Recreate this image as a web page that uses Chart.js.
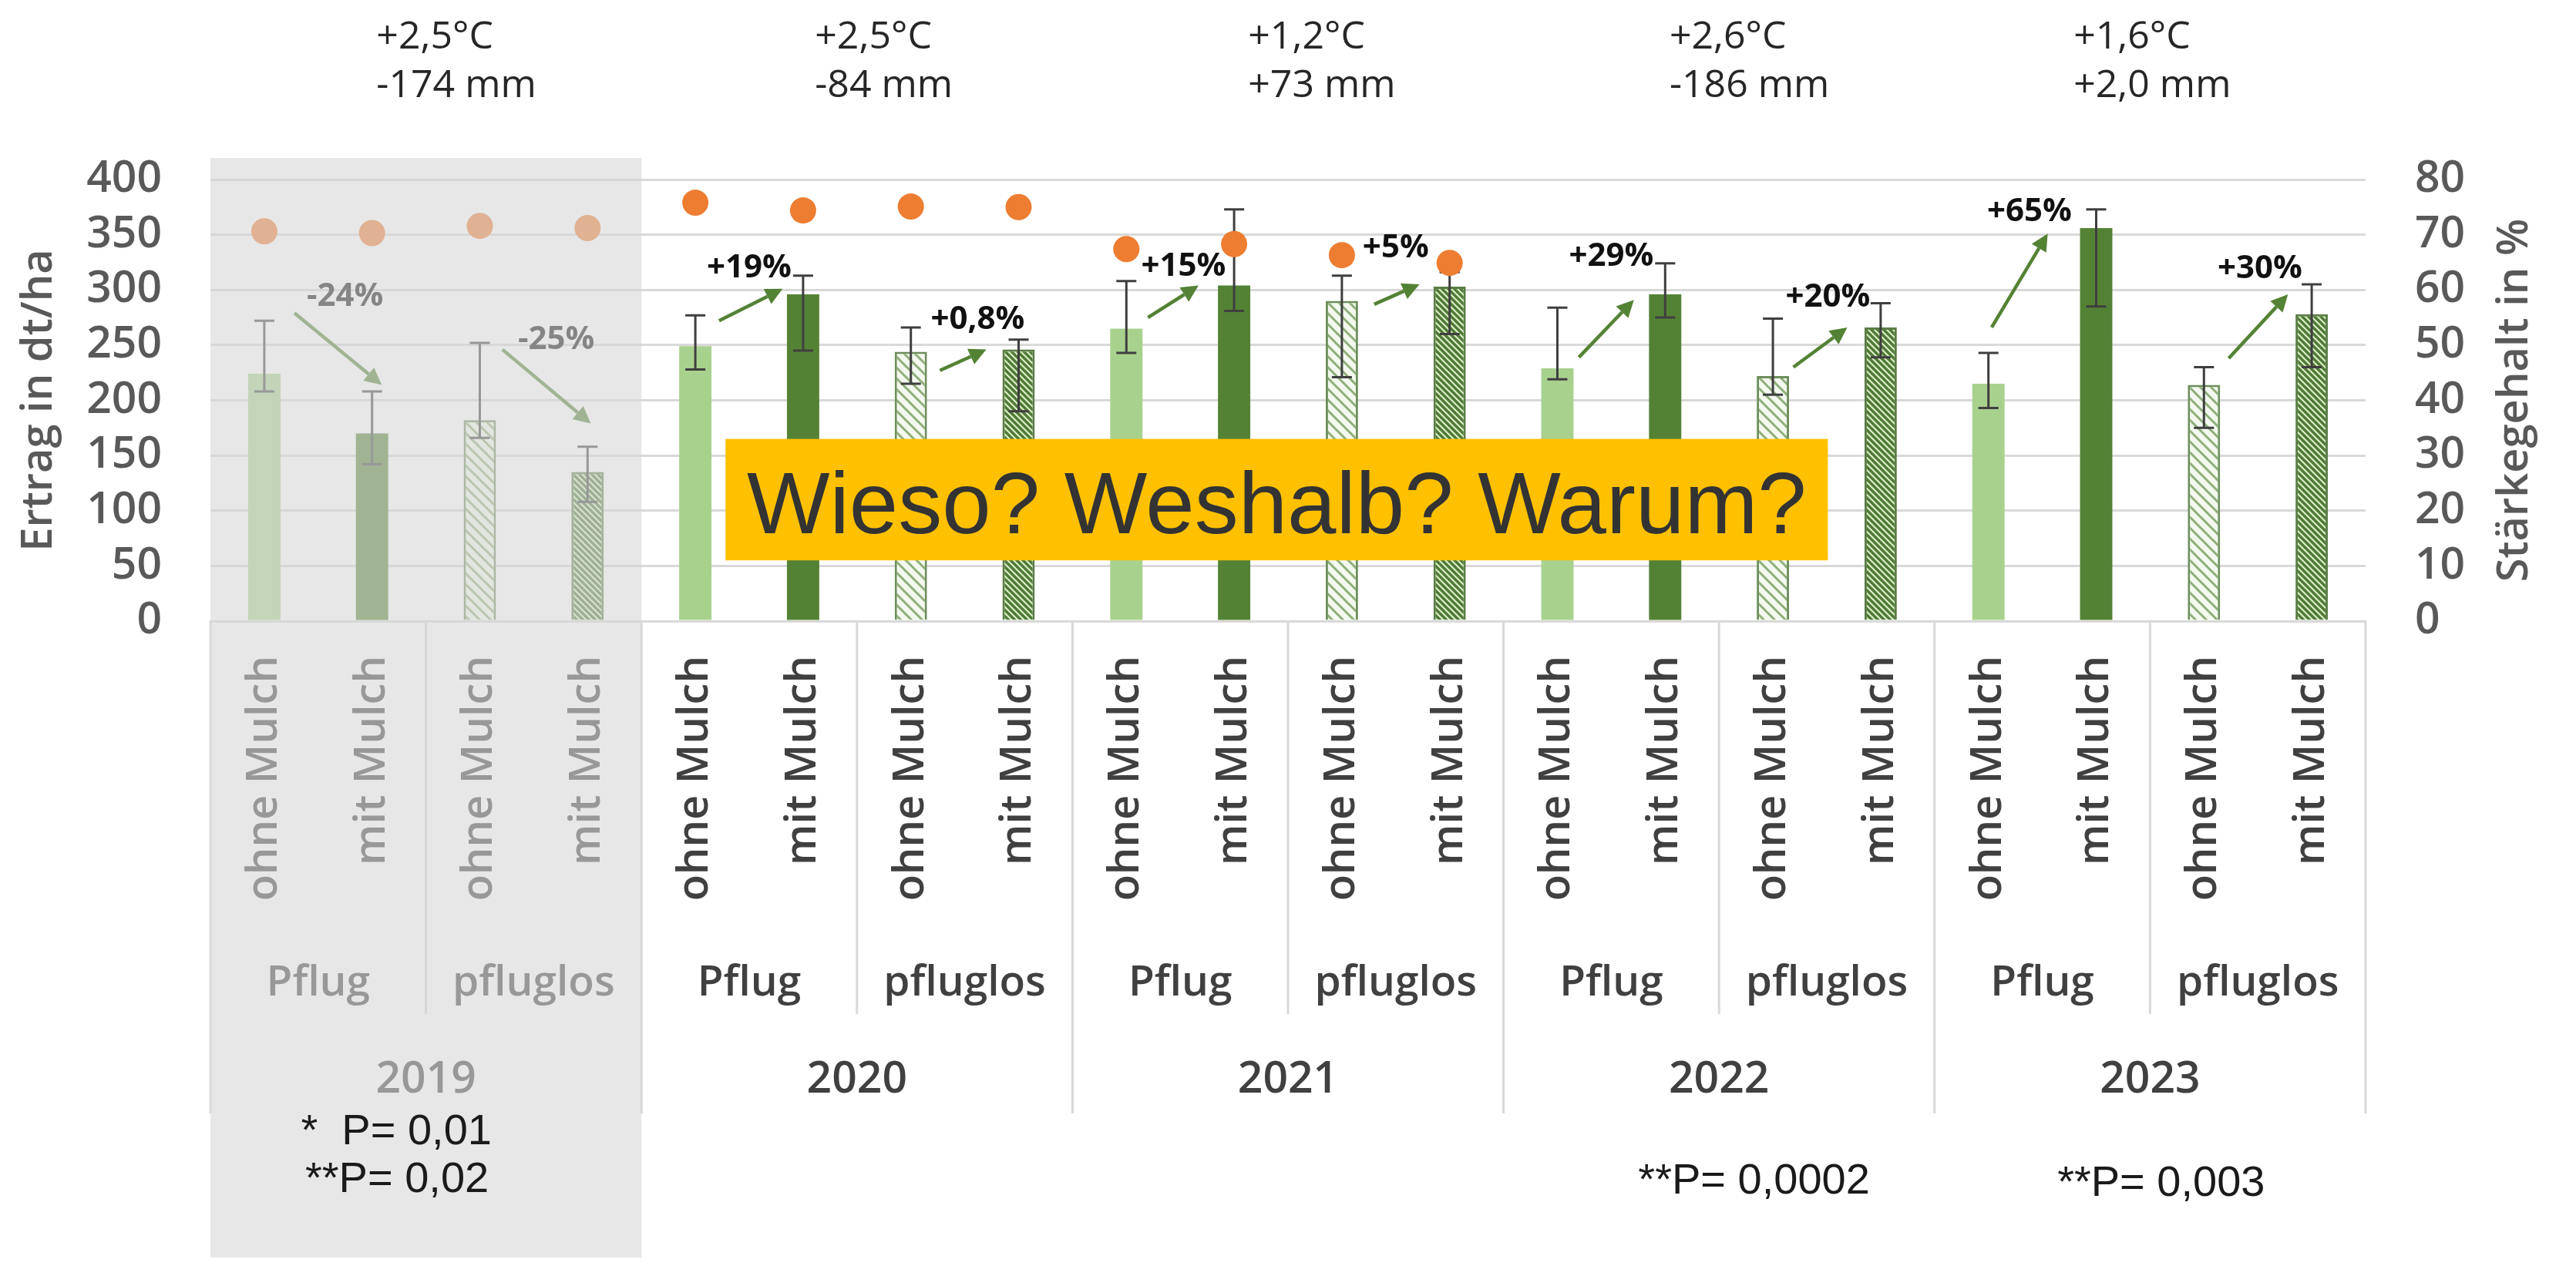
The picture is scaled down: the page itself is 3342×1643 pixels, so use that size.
<!DOCTYPE html>
<html>
<head>
<meta charset="utf-8">
<script src="https://cdn.jsdelivr.net/npm/chart.js@4.4.1/dist/chart.umd.min.js"></script>
<style>
  body { margin: 0; background: #fff; }
  canvas { display: block; }
</style>
</head>
<body>
<canvas id="yieldChart" width="3342" height="1643" style="width:3342px;height:1643px"></canvas>
<script>
// Kategorien (20 Balken: 5 Jahre x Pflug/pfluglos x ohne/mit Mulch)
const categories = [
    'ohne Mulch', 'mit Mulch', 'ohne Mulch', 'mit Mulch',
    'ohne Mulch', 'mit Mulch', 'ohne Mulch', 'mit Mulch',
    'ohne Mulch', 'mit Mulch', 'ohne Mulch', 'mit Mulch',
    'ohne Mulch', 'mit Mulch', 'ohne Mulch', 'mit Mulch',
    'ohne Mulch', 'mit Mulch', 'ohne Mulch', 'mit Mulch'
];
const tillage = ['Pflug', 'pfluglos'];
const years = ['2019', '2020', '2021', '2022', '2023'];

// Ertrag in dt/ha und Fehlerbalken
const yieldValues = [224, 170, 182, 135, 249, 296, 244, 246, 265, 304, 290, 303, 229, 296, 222, 266, 215, 356, 214, 278];
const errHigh     = [272, 208, 252, 158, 277, 313, 266, 255, 308, 373, 313, 316, 284, 324, 274, 288, 243, 373, 230, 305];
const errLow      = [208, 142, 166, 108, 228, 245, 215, 190, 243, 281, 221, 260, 219, 275, 205, 239, 193, 285, 175, 230];

// Stärkegehalt in %
const starchValues = [70.6, 70.3, 71.6, 71.2, 75.8, 74.4, 75.1, 75.0, 67.4, 68.3, 66.3, 64.9,
    null, null, null, null, null, null, null, null];

// Veränderung mit Mulch (Pfeile), Anker in [Kategorie-Index, dt/ha]
const changeLabels = ['-24%', '-25%', '+19%', '+0,8%', '+15%', '+5%', '+29%', '+20%', '+65%', '+30%'];
const changeLabelAt = [[0.75, 294], [2.71, 255], [4.5, 320], [6.62, 273], [8.53, 321], [10.5, 338], [12.5, 330], [14.51, 293], [16.38, 371], [18.52, 319]];
const arrowFrom = [[0.28, 279], [2.21, 246], [4.22, 272], [6.27, 227], [8.20, 275], [10.30, 287], [12.20, 239], [14.19, 230], [16.03, 266], [18.23, 238]];
const arrowTo   = [[1.09, 214], [3.03, 179], [4.81, 301], [6.70, 246], [8.67, 304], [10.72, 305], [12.71, 291], [14.69, 266], [16.55, 351], [18.78, 296]];

// Witterung je Jahr
const tempChange = ['+2,5°C', '+2,5°C', '+1,2°C', '+2,6°C', '+1,6°C'];
const rainChange = ['-174 mm', '-84 mm', '+73 mm', '-186 mm', '+2,0 mm'];
const climateAt = [1.04, 5.11, 9.13, 13.04, 16.79];

// Signifikanzen
const pNotes = ['*  P= 0,01', '**P= 0,02', '**P= 0,0002', '**P= 0,003'];
const pNotesAt = [0.34, 0.38, 12.75, 16.64];
const pNotesY = [1470, 1532, 1534, 1537];

const calloutText = 'Wieso? Weshalb? Warum?';

const canvas = document.getElementById('yieldChart');
const ctx = canvas.getContext('2d');

function makeHatch(bg, fg, gap, lw) {
    const c = document.createElement('canvas');
    c.width = gap;
    c.height = gap;
    const g = c.getContext('2d');
    g.fillStyle = bg;
    g.fillRect(0, 0, gap, gap);
    g.strokeStyle = fg;
    g.lineWidth = lw;
    g.beginPath();
    g.moveTo(-gap / 2, -gap / 2); g.lineTo(gap * 1.5, gap * 1.5);
    g.moveTo(gap / 2, -gap / 2); g.lineTo(gap * 1.5, gap / 2);
    g.moveTo(-gap / 2, gap / 2); g.lineTo(gap / 2, gap * 1.5);
    g.stroke();
    return ctx.createPattern(c, 'repeat');
}

const hatchLight = makeHatch('#f3f9ee', '#8fae7a', 14, 3);
const hatchDense = makeHatch('#dcedc8', '#4f7a36', 8, 3.5);

const barFills = categories.map((_, i) => [ '#a9d18e', '#548235', hatchLight, hatchDense ][i % 4]);
const barBorders = categories.map((_, i) => (i % 4 === 2 ? '#6e8e5c' : '#5a7d45'));
const barBorderWidths = categories.map((_, i) => (i % 4 >= 2 ? 3 : 0));

function drawArrow(c, x1, y1, x2, y2, color) {
    const ang = Math.atan2(y2 - y1, x2 - x1);
    const head = 22, wing = 11;
    const bx = x2 - head * Math.cos(ang), by = y2 - head * Math.sin(ang);
    c.strokeStyle = color;
    c.fillStyle = color;
    c.lineWidth = 4.5;
    c.beginPath();
    c.moveTo(x1, y1);
    c.lineTo(bx, by);
    c.stroke();
    c.beginPath();
    c.moveTo(x2, y2);
    c.lineTo(bx + wing * Math.sin(ang), by - wing * Math.cos(ang));
    c.lineTo(bx - wing * Math.sin(ang), by + wing * Math.cos(ang));
    c.closePath();
    c.fill();
}

const decor = {
    id: 'decor',
    afterDatasetDraw(chart, args) {
        if (args.index !== 1) return;
        const c = chart.ctx, xs = chart.scales.x, ys = chart.scales.y;
        c.save();
        c.strokeStyle = '#3f3f3f';
        c.lineWidth = 3;
        errHigh.forEach((hi, i) => {
            const x = xs.getPixelForValue(i);
            const yh = ys.getPixelForValue(hi), yl = ys.getPixelForValue(errLow[i]);
            c.beginPath();
            c.moveTo(x, yh); c.lineTo(x, yl);
            c.moveTo(x - 13, yh); c.lineTo(x + 13, yh);
            c.moveTo(x - 13, yl); c.lineTo(x + 13, yl);
            c.stroke();
        });
        c.restore();
    },
    afterDraw(chart) {
        const c = chart.ctx, xs = chart.scales.x, ys = chart.scales.y;
        const area = chart.chartArea;
        const px = v => xs.getPixelForValue(v);
        const half = (px(1) - px(0)) / 2;
        c.save();

        // Trennlinien der mehrstufigen Achse
        c.strokeStyle = '#d9d9d9';
        c.lineWidth = 3;
        for (let g = 0; g <= categories.length / 2; g++) {
            const x = px(2 * g) - half;
            c.beginPath();
            c.moveTo(x, area.bottom);
            c.lineTo(x, g % 2 === 0 ? 1445 : 1316);
            c.stroke();
        }

        // Pflug / pfluglos und Jahre
        c.fillStyle = '#404040';
        c.textAlign = 'center';
        c.textBaseline = 'middle';
        c.font = '600 55px "Open Sans"';
        for (let g = 0; g < categories.length / 2; g++) {
            c.fillText(tillage[g % 2], (px(2 * g) + px(2 * g + 1)) / 2, 1276);
        }
        c.font = '600 57px "Open Sans"';
        years.forEach((y, k) => {
            c.fillText(y, (px(4 * k) + px(4 * k + 3)) / 2, 1402);
        });

        // rechter Achsentitel
        c.save();
        c.translate(3263, (area.top + area.bottom) / 2);
        c.rotate(-Math.PI / 2);
        c.fillStyle = '#595959';
        c.font = '600 56px "Open Sans"';
        c.fillText('Stärkegehalt in %', 0, 0);
        c.restore();

        // Pfeile und Prozentangaben
        changeLabels.forEach((lab, k) => {
            drawArrow(c, px(arrowFrom[k][0]), ys.getPixelForValue(arrowFrom[k][1]),
                px(arrowTo[k][0]), ys.getPixelForValue(arrowTo[k][1]), '#548235');
            c.fillStyle = '#111';
            c.font = 'bold 42px "Open Sans"';
            c.fillText(lab, px(changeLabelAt[k][0]), ys.getPixelForValue(changeLabelAt[k][1]));
        });

        // gelber Kasten
        const bx1 = px(4.28), bx2 = px(14.51);
        const by1 = ys.getPixelForValue(165), by2 = ys.getPixelForValue(55);
        c.fillStyle = '#ffc000';
        c.fillRect(bx1, by1, bx2 - bx1, by2 - by1);
        c.fillStyle = '#333333';
        c.font = '114px "Liberation Sans"';
        c.textBaseline = 'alphabetic';
        c.fillText(calloutText, (bx1 + bx2) / 2, by2 - 35);

        // 2019 ausgegraut
        const gx1 = px(0) - half, gx2 = px(3) + half;
        c.fillStyle = 'rgba(214,214,214,0.59)';
        c.fillRect(gx1, 205, gx2 - gx1, 1632 - 205);

        // Signifikanzen
        c.fillStyle = '#1a1a1a';
        c.font = '56px "Liberation Sans"';
        c.textAlign = 'left';
        c.textBaseline = 'middle';
        pNotes.forEach((t, k) => c.fillText(t, px(pNotesAt[k]), pNotesY[k]));

        // Temperatur und Niederschlag
        c.fillStyle = '#262626';
        c.font = '50px "Open Sans"';
        climateAt.forEach((v, k) => {
            c.fillText(tempChange[k], px(v), 49);
            c.fillText(rainChange[k], px(v), 112);
        });
        c.restore();
    }
};

const tickFont = { family: 'Open Sans', size: 57, weight: '600' };

new Chart(ctx, {
    type: 'bar',
    data: {
        labels: categories,
        datasets: [
            {
                type: 'line',
                label: 'Stärkegehalt',
                data: starchValues,
                yAxisID: 'y2',
                showLine: false,
                pointRadius: 17,
                pointBackgroundColor: '#ed7d31',
                pointBorderWidth: 0,
                order: 0
            },
            {
                type: 'bar',
                label: 'Ertrag',
                data: yieldValues,
                yAxisID: 'y',
                backgroundColor: barFills,
                borderColor: barBorders,
                borderWidth: barBorderWidths,
                barPercentage: 0.3,
                categoryPercentage: 1,
                order: 1
            }
        ]
    },
    options: {
        responsive: false,
        animation: false,
        layout: { padding: { top: 233, left: 0, right: 0, bottom: 0 } },
        plugins: { legend: { display: false }, tooltip: { enabled: false } },
        scales: {
            x: {
                grid: { display: false, drawTicks: false },
                border: { color: '#d9d9d9', width: 3 },
                ticks: {
                    minRotation: 90, maxRotation: 90, autoSkip: false, padding: 45,
                    font: { family: 'Open Sans', size: 56, weight: '600' }, color: '#404040'
                },
                afterFit: s => { s.height = 837; }
            },
            y: {
                min: 0, max: 400,
                ticks: { stepSize: 50, padding: 63, font: tickFont, color: '#595959' },
                grid: { color: '#d9d9d9', lineWidth: 3, drawTicks: false },
                border: { display: false },
                title: {
                    display: true, text: 'Ertrag in dt/ha', color: '#595959',
                    font: { family: 'Open Sans', size: 56, weight: '600' }, padding: { top: 17, bottom: 0 }
                },
                afterFit: s => { s.width = 273; }
            },
            y2: {
                position: 'right',
                min: 0, max: 80,
                ticks: { stepSize: 10, padding: 64, font: tickFont, color: '#595959' },
                grid: { display: false, drawTicks: false },
                border: { display: false },
                afterFit: s => { s.width = 273; }
            }
        }
    },
    plugins: [decor]
});
</script>
</body>
</html>
